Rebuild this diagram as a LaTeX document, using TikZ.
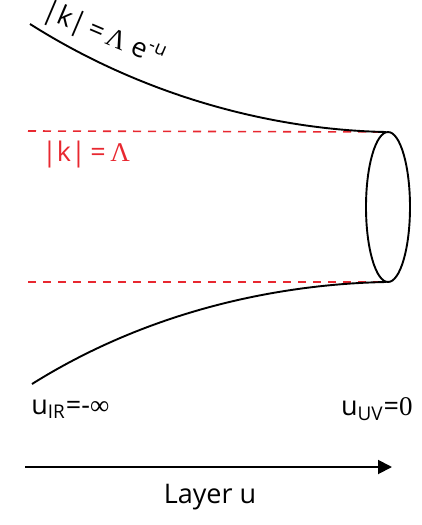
\documentclass[tikz,border=0pt]{standalone}
\usepackage{fontspec}
\setmainfont{Open Sans}
\newfontfamily\serifnum{Liberation Serif}
\usetikzlibrary{arrows.meta}
\definecolor{cutred}{RGB}{232,40,48}

\begin{document}
\begin{tikzpicture}[x=0.5pt,y=-0.5pt,
    flowline/.style={line width=0.95pt,black},
    cutoff/.style={line width=0.8pt,cutred,dash pattern=on 4pt off 3.5pt},
    lbl/.style={inner sep=0pt,font=\fontsize{13.5}{15}\selectfont}]
  \useasboundingbox (0,0) rectangle (422,525);
  % ends of the funnel at the disk
  \coordinate (ttop) at (386,132);
  \coordinate (tbot) at (386,282);
  \coordinate (irtop) at (30,24);
  \coordinate (irbot) at (32,384);
  \draw[cutoff] (28,131) coordinate (ltop) -- (ttop);
  \draw[cutoff] (28,282) coordinate (lbot) -- (tbot);
  \draw[flowline] (irtop) .. controls (150,100) and (280,130) .. (ttop);
  \draw[flowline] (irbot) .. controls (150,310) and (280,284) .. (tbot);
  \draw[flowline] (388,207) ellipse [x radius=22, y radius=75];
  \node[lbl,rotate=-23] (kscale) at (104,35) {|k|\,=\,{\serifnum Λ} e\textsuperscript{-u}};
  \node[lbl,text=cutred] (kcut) at (86,155) {|k|\,=\,{\serifnum Λ}};
  \node[lbl,anchor=west] (uir) at (31,409) {u\textsubscript{IR}=-{\serifnum ∞}};
  \node[lbl,anchor=east] (uuv) at (413,409) {u\textsubscript{UV}={\serifnum 0}};
  \coordinate (astart) at (25,467);
  \coordinate (aend) at (392,467);
  \draw[flowline,-{Triangle[length=7pt,width=7pt]}] (astart) -- (aend);
  \node[lbl] (layer) at (210,497) {Layer u};
\end{tikzpicture}
\end{document}
